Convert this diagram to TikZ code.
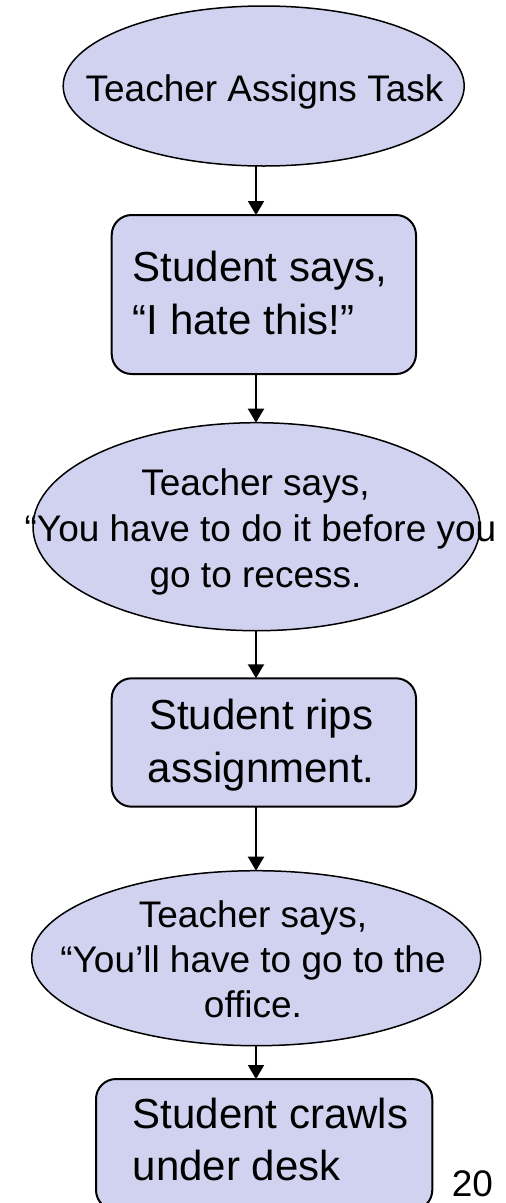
\documentclass[tikz,border=0pt]{standalone}
\usepackage{fontspec}
\setmainfont{Liberation Sans}
\usetikzlibrary{shapes.geometric,arrows.meta}
\definecolor{lav}{RGB}{209,210,240}
\begin{document}
\begin{tikzpicture}[x=1pt,y=-1pt,
  oval/.style={ellipse,draw,fill=lav,line width=1.5pt,inner sep=0pt,outer sep=0pt},
  stepbox/.style={rectangle,draw,fill=lav,line width=2pt,rounded corners=20pt,inner sep=0pt,outer sep=0pt},
  small/.style={inner sep=0pt,font=\fontsize{37}{46}\selectfont,align=center},
  big/.style={inner sep=0pt,font=\fontsize{42}{52.5}\selectfont},
  arr/.style={line width=2pt,-{Triangle[width=16pt,length=14pt]}}]
\useasboundingbox (0,0) rectangle (506,1203);
% shapes
\node[oval,minimum width=401pt,minimum height=160pt] (e1) at (263.7,86) {};
\node[stepbox,minimum width=304.3pt,minimum height=159pt] (b2) at (263.85,294.5) {};
\node[oval,minimum width=447pt,minimum height=208pt] (e3) at (256.5,526.7) {};
\node[stepbox,minimum width=304.3pt,minimum height=128.4pt] (b4) at (263.85,742.5) {};
\node[oval,minimum width=449pt,minimum height=175pt] (e5) at (256.2,958.2) {};
\node[stepbox,minimum width=336.3pt,minimum height=131pt] (b6) at (264.15,1144.5) {};
% texts
\node[small,anchor=base] (t1) at (264.5,101) {Teacher Assigns Task};
\node[big,align=left,anchor=west] (t2) at (132.7,293.2) {Student says,\\“I hate this!”};
\node[small] (t3) at (255.5,531.7) {Teacher says,\\\hspace*{10pt}“You have to do it before you\\go to recess.};
\node[big,align=center] (t4) at (261.2,745.1) {Student rips\\assignment.};
\node[small,font=\fontsize{37}{45}\selectfont] (t5) at (253,958.8) {Teacher says,\\“You’ll have to go to the\\office.};
\node[big,align=left,anchor=west] (t6) at (132.7,1139.5) {Student crawls\\under desk};
\node[small,anchor=base west] (pg) at (451.7,1196) {20};
% connectors
\coordinate (ax) at (256,0);
\draw[arr] (e1.south -| ax) -- (b2.north -| ax);
\draw[arr] (b2.south -| ax) -- (e3.north -| ax);
\draw[arr] (e3.south -| ax) -- (b4.north -| ax);
\draw[arr] (b4.south -| ax) -- (e5.north -| ax);
\draw[arr] (e5.south -| ax) -- (b6.north -| ax);
\end{tikzpicture}
\end{document}
